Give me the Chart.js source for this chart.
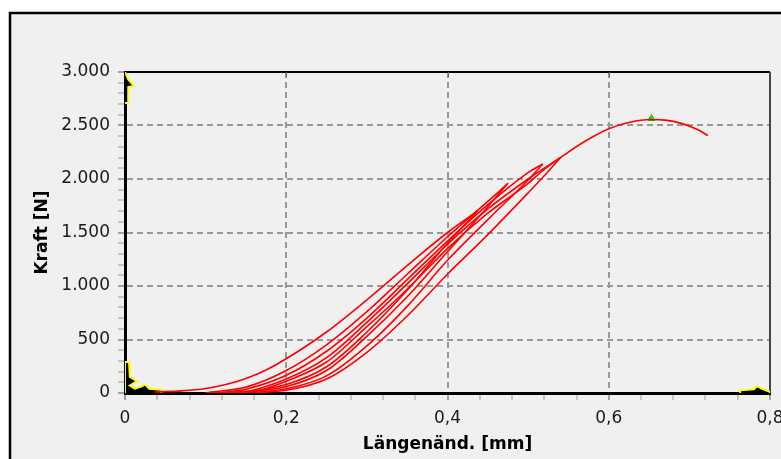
<!DOCTYPE html>
<html>
<head>
<meta charset="utf-8">
<script src="https://cdn.jsdelivr.net/npm/chart.js@4.4.1/dist/chart.umd.min.js"></script>
<style>
  html, body { margin: 0; padding: 0; background: #fff; }
  canvas { display: block; }
</style>
</head>
<body>
<canvas id="myChart" width="781" height="459"></canvas>
<script>
// Kraft-Weg-Kurve mit Be-/Entlastungszyklen: [Laengenaenderung mm, Kraft N]
const load1 = [[0.037,10],[0.07,20],[0.1,42],[0.125,80],[0.15,135],[0.175,215],[0.2,320],[0.25,570],[0.3,870],[0.35,1190],[0.4,1500],[0.437,1700]];
const unload1 = [[0.437,1700],[0.42,1560],[0.4,1400],[0.35,960],[0.3,570],[0.25,245],[0.2,80],[0.15,15],[0.1,3]];
const load2 = [[0.1,3],[0.15,55],[0.2,210],[0.25,450],[0.3,760],[0.35,1110],[0.4,1460],[0.45,1790],[0.475,1960]];
const unload2 = [[0.475,1960],[0.46,1830],[0.45,1740],[0.4,1320],[0.35,900],[0.3,530],[0.25,210],[0.2,60],[0.15,10],[0.12,3]];
const load3 = [[0.12,3],[0.15,35],[0.2,165],[0.25,390],[0.3,700],[0.35,1060],[0.4,1420],[0.45,1760],[0.5,2060],[0.518,2140]];
const unload3 = [[0.518,2140],[0.5,1990],[0.45,1620],[0.4,1240],[0.35,810],[0.3,440],[0.25,160],[0.2,40],[0.15,5],[0.14,3]];
const load4 = [[0.14,3],[0.15,10],[0.2,130],[0.25,330],[0.3,660],[0.35,1020],[0.4,1390],[0.45,1720],[0.5,2000],[0.54,2200]];
const unload4 = [[0.54,2200],[0.52,2030],[0.5,1870],[0.45,1480],[0.4,1110],[0.35,720],[0.3,380],[0.25,130],[0.2,25],[0.16,3]];
const loadFinal = [[0.16,3],[0.2,110],[0.25,290],[0.3,620],[0.35,970],[0.4,1350],[0.45,1680],[0.5,1960],[0.52,2090],[0.545,2225],
  [0.57,2350],[0.6,2470],[0.626,2530],[0.651,2556],[0.67,2550],[0.69,2520],[0.71,2462],[0.723,2405]];
const maxPoint = [[0.653,2565]];

// gelbe Markierungen an den Ecken
const markerTop = [[0,3000],[0.004,2930],[0.011,2870],[0.004,2860],[0.004,2710],[0,2710]];
const markerLeft = [[0,0],[0,290],[0.005,290],[0.006,150],[0.015,110],[0.006,70],[0.012,40],[0.02,60],[0.025,80],[0.03,40],[0.045,30],[0.045,0]];
const markerRight = [[0.763,0],[0.763,25],[0.78,35],[0.784,65],[0.79,40],[0.8,10],[0.8,0]];

const xTicks = [0, 0.2, 0.4, 0.6, 0.8];
const xLabels = ['0', '0,2', '0,4', '0,6', '0,8'];
const yTicks = [0, 500, 1000, 1500, 2000, 2500, 3000];
const yLabels = ['0', '500', '1.000', '1.500', '2.000', '2.500', '3.000'];

const toXY = pts => pts.map(p => ({ x: p[0], y: p[1] }));
const majorIndex = (list, v) => list.findIndex(t => Math.abs(t - v) < 1e-6);

function curve(pts) {
    return {
        data: toXY(pts),
        showLine: true,
        borderColor: '#ff0000',
        borderWidth: 1.6,
        pointRadius: 0,
        cubicInterpolationMode: 'monotone'
    };
}

function marker(pts) {
    return {
        data: toXY(pts),
        showLine: true,
        borderColor: '#ffff00',
        backgroundColor: '#000000',
        borderWidth: 2,
        pointRadius: 0,
        fill: 'shape',
        tension: 0
    };
}

const framePlugin = {
    id: 'frame',
    beforeDraw(chart) {
        const c = chart.ctx;
        c.save();
        c.fillStyle = '#ffffff';
        c.fillRect(0, 0, chart.width, chart.height);
        c.fillStyle = '#f0f0f0';
        c.fillRect(10, 13, chart.width - 10, chart.height - 13);
        c.strokeStyle = '#000';
        c.lineWidth = 2.5;
        c.beginPath();
        c.moveTo(10, chart.height);
        c.lineTo(10, 13);
        c.lineTo(chart.width, 13);
        c.stroke();
        c.restore();
    },
    beforeDatasetsDraw(chart) {
        const c = chart.ctx;
        const a = chart.chartArea;
        const xs = chart.scales.x;
        c.save();
        c.strokeStyle = '#000';
        c.lineWidth = 2;
        c.beginPath();
        c.moveTo(a.left, a.top);
        c.lineTo(a.right, a.top);
        c.stroke();
        c.strokeStyle = '#444';
        c.beginPath();
        c.moveTo(a.right, a.top);
        c.lineTo(a.right, a.bottom);
        c.stroke();
        c.strokeStyle = '#666';
        c.lineWidth = 1;
        xTicks.slice(1, -1).forEach(v => {
            const px = Math.round(xs.getPixelForValue(v)) + 0.5;
            c.beginPath();
            c.moveTo(px, a.top);
            c.lineTo(px, a.top + 5);
            c.stroke();
        });
        c.restore();
    }
};

const ctx = document.getElementById('myChart');

new Chart(ctx, {
    type: 'scatter',
    data: {
        datasets: [
            curve(load1), curve(unload1), curve(load2), curve(unload2),
            curve(load3), curve(unload3), curve(load4), curve(unload4), curve(loadFinal),
            marker(markerTop), marker(markerLeft), marker(markerRight),
            {
                data: toXY(maxPoint),
                pointStyle: 'triangle',
                pointRadius: 4,
                backgroundColor: '#00ee00',
                borderColor: '#00cc00',
                borderWidth: 1
            }
        ]
    },
    options: {
        responsive: false,
        animation: false,
        devicePixelRatio: 1,
        layout: { padding: { top: 72, right: 11, left: 0, bottom: 0 } },
        plugins: { legend: { display: false }, tooltip: { enabled: false } },
        scales: {
            x: {
                type: 'linear',
                min: 0,
                max: 0.8,
                afterFit(scale) {
                    scale.height = 66;
                    scale.paddingLeft = 0;
                    scale.paddingRight = 0;
                },
                ticks: {
                    stepSize: 0.04,
                    autoSkip: false,
                    maxRotation: 0,
                    padding: 8,
                    color: '#1a1a1a',
                    font: { family: 'DejaVu Sans', size: 17 },
                    callback: v => {
                        const i = majorIndex(xTicks, v);
                        return i >= 0 ? xLabels[i] : '';
                    }
                },
                grid: {
                    color: c => {
                        const i = majorIndex(xTicks, c.tick.value);
                        return (i > 0 && i < xTicks.length - 1) ? '#999999' : 'rgba(0,0,0,0)';
                    },
                    lineWidth: 2,
                    tickLength: 7,
                    tickWidth: 1,
                    tickColor: c => majorIndex(xTicks, c.tick.value) >= 0 ? '#555555' : '#9a9a9a'
                },
                border: { color: '#000', width: 3, dash: [6, 4] },
                title: {
                    display: true,
                    text: 'Längenänd. [mm]',
                    color: '#000',
                    font: { family: 'DejaVu Sans', size: 17, weight: 'bold' },
                    padding: { top: 0, bottom: 4 }
                }
            },
            y: {
                type: 'linear',
                min: 0,
                max: 3000,
                afterFit(scale) {
                    scale.width = 125;
                    scale.paddingTop = 0;
                    scale.paddingBottom = 0;
                },
                ticks: {
                    stepSize: 100,
                    autoSkip: false,
                    padding: 8,
                    color: '#1a1a1a',
                    font: { family: 'DejaVu Sans', size: 17 },
                    callback: v => {
                        const i = majorIndex(yTicks, v);
                        return i >= 0 ? yLabels[i] : '';
                    }
                },
                grid: {
                    color: c => {
                        const i = majorIndex(yTicks, c.tick.value);
                        return (i > 0 && i < yTicks.length - 1) ? '#999999' : 'rgba(0,0,0,0)';
                    },
                    lineWidth: 2,
                    tickLength: 7,
                    tickWidth: 1,
                    tickColor: c => majorIndex(yTicks, c.tick.value) >= 0 ? '#555555' : '#9a9a9a'
                },
                border: { color: '#000', width: 3, dash: [6, 4] },
                title: {
                    display: true,
                    text: 'Kraft [N]',
                    color: '#000',
                    font: { family: 'DejaVu Sans', size: 17, weight: 'bold' },
                    padding: { top: 32, bottom: 0 }
                }
            }
        }
    },
    plugins: [framePlugin]
});
</script>
</body>
</html>
